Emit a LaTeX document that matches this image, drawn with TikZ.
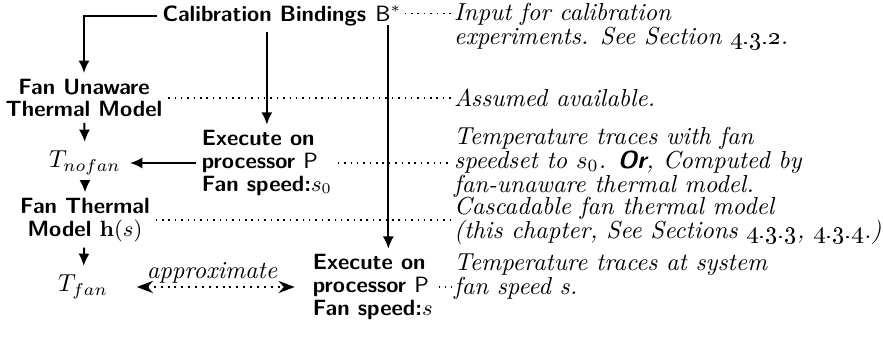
\documentclass[tikz,border=0pt]{standalone}
\usepackage{amsmath}
\usetikzlibrary{arrows.meta, positioning, calc}

\begin{document}
\begin{tikzpicture}[x=0.407pt, y=-0.407pt, thick,
  >={Latex[length=5pt,width=4.5pt]},
  box/.style={font=\sffamily\bfseries\fontsize{9}{9.2}\selectfont, align=center, inner sep=2pt},
  note/.style={font=\itshape\fontsize{10}{9.8}\selectfont, align=left, anchor=west, inner sep=0.5pt},
  link/.style={dotted, semithick}]
\useasboundingbox (0,0) rectangle (883,338);

% Calibration input
\node[box, anchor=east] (calib) at (372,16) {Calibration Bindings};
\node[anchor=base west, font=\sffamily\fontsize{9}{9.2}\selectfont, inner sep=1pt] (bstar) at (calib.base east) {B$^*$};
\node[note] (inp) at (452,26) {Input for calibration\\experiments. See Section \oldstylenums{4.3.2}.};

% Left column
\node[box] (unaware) at (84,98) {Fan Unaware\\Thermal Model};
\node (tnofan) at (85,163) {$T_{nofan}$};
\node[box] (fanmodel) at (85,220) {Fan Thermal\\Model $\mathbf{h}(s)$};
\node (tfan) at (83,287) {$T_{fan}$};

% Experiments
\node[box, align=left, anchor=west] (run0) at (196,163) {Execute on\\processor {\mdseries P}\\Fan speed:$s_0$};
\node[box, align=left, anchor=west] (run) at (307,287) {Execute on\\processor {\mdseries P}\\Fan speed:$s$};

% Notes
\node[note] (avail) at (452,98) {Assumed available.};
\node[note] (traces0) at (452,162) {Temperature traces with fan\\speedset to $s_0$. \textsf{\bfseries\itshape Or}, Computed by\\fan-unaware thermal model.};
\node[note] (casc) at (452,221) {Cascadable fan thermal model\\(this chapter, See Sections \oldstylenums{4.3.3}, \oldstylenums{4.3.4}.)};
\node[note] (traces) at (452,277) {Temperature traces at system\\fan speed s.};

% Arrows
\draw[->] (calib.west) -| (unaware.north);
\draw[->] (calib.south -| run0.north) -- (run0.north);
\draw[->] (bstar.south) -- (bstar.south |- run.north);
\draw[->] (unaware) -- (tnofan);
\draw[->] (tnofan) -- (fanmodel);
\draw[->] (fanmodel) -- (tfan);
\draw[->] (run0.west) -- (tnofan.east);
\draw[{Stealth}-{Stealth}, dotted, shorten <=8pt, shorten >=5pt] (tfan.east) -- node[above, inner sep=1pt] {\textit{approximate}} (run.west);

% Dotted links to notes
\draw[link] (bstar.east) -- (bstar.east -| inp.west);
\draw[link] (unaware.east) -- (unaware.east -| avail.west);
\draw[link] (run0.east) -- (run0.east -| traces0.west);
\draw[link] (fanmodel.east) -- (fanmodel.east -| casc.west);
\draw[link] (run.east) -- (run.east -| traces.west);
\end{tikzpicture}
\end{document}
